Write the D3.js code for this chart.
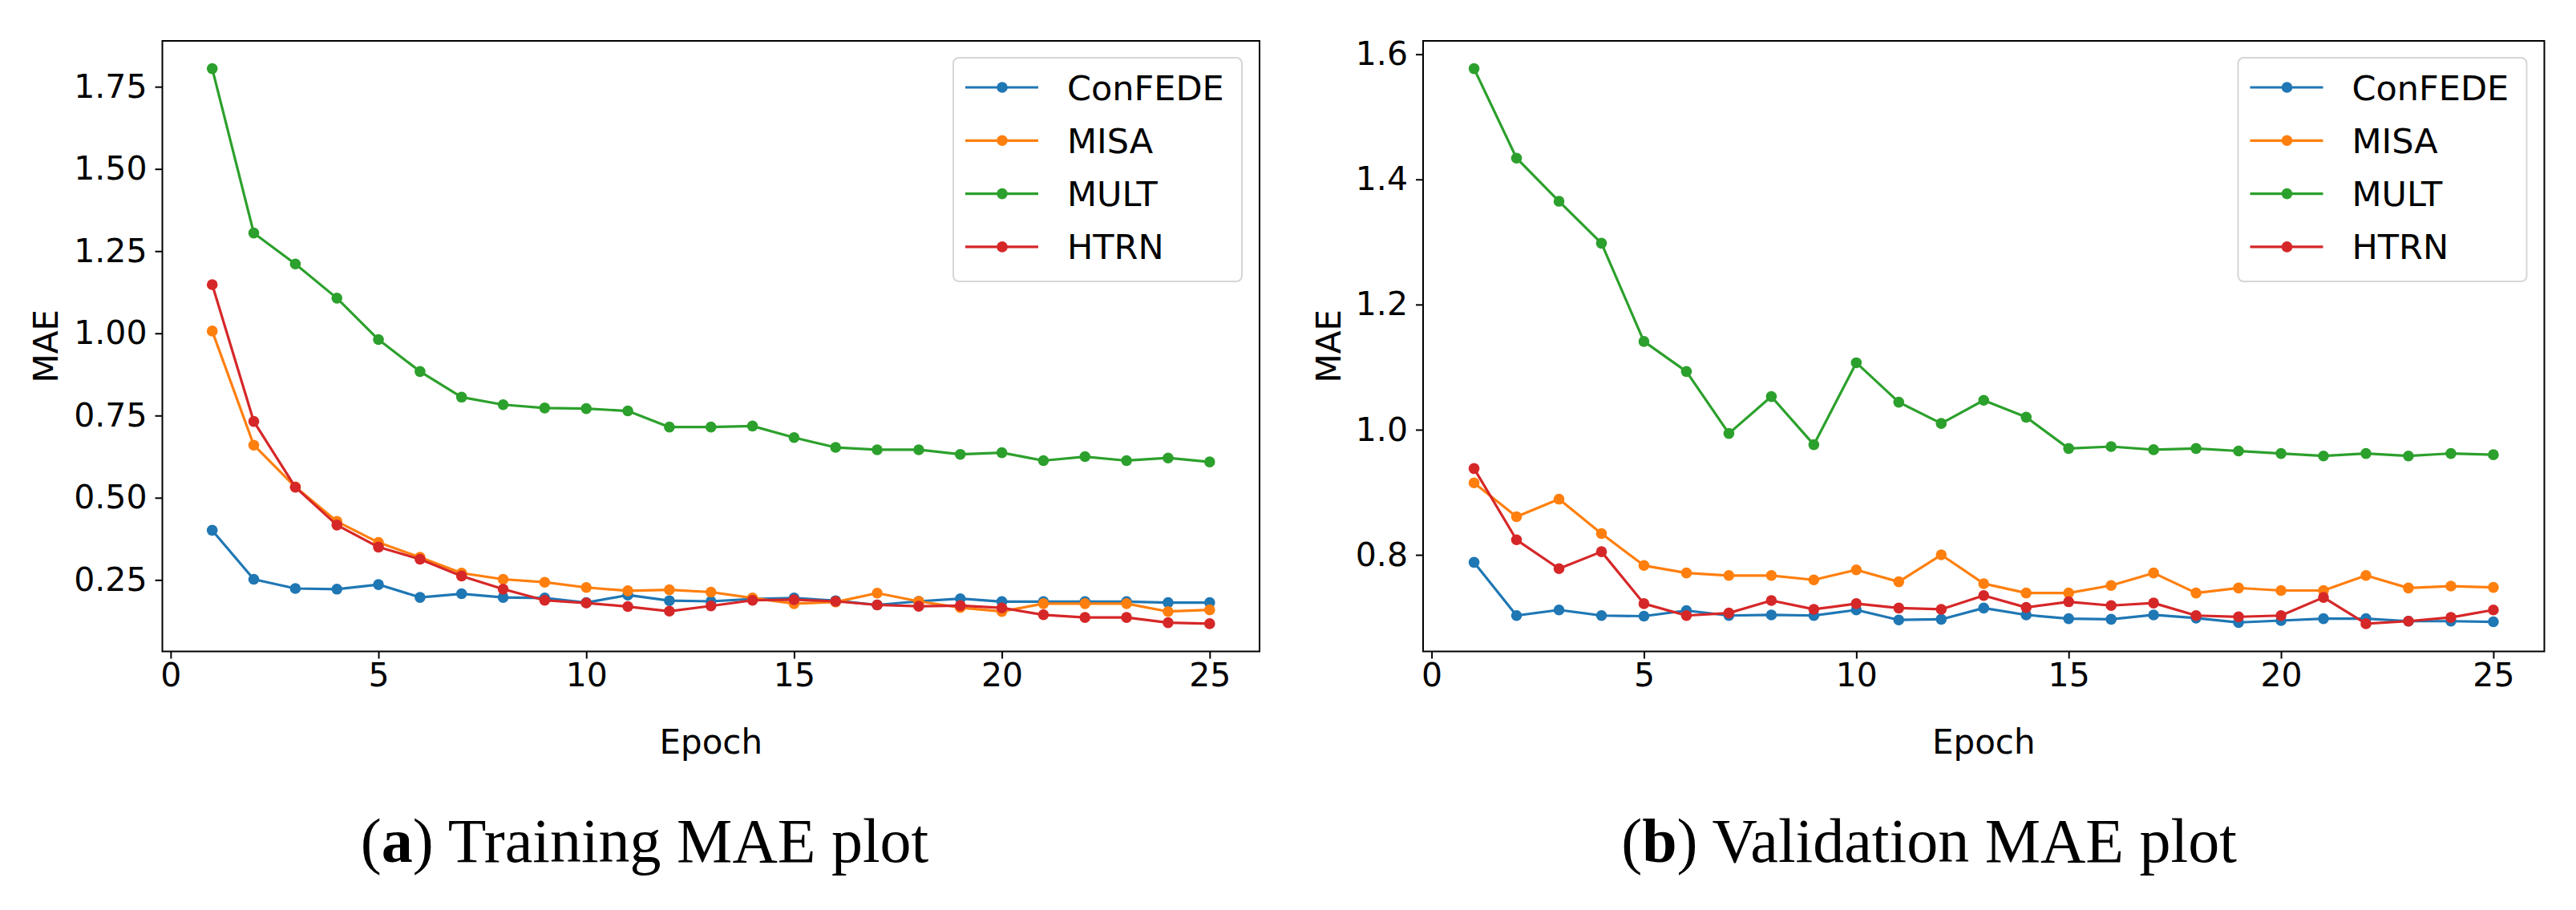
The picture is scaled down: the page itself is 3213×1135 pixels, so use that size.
<!DOCTYPE html>
<html>
<head>
<meta charset="utf-8">
<script src="https://cdnjs.cloudflare.com/ajax/libs/d3/7.8.5/d3.min.js"></script>
<style>
  body { margin: 0; background: #fff; }
  .tick text { font-family: "DejaVu Sans", sans-serif; font-size: 41px; fill: #000; }
  .tick line { stroke: #000; stroke-width: 2; }
  .axis-label { font-family: "DejaVu Sans", sans-serif; font-size: 42px; fill: #000; }
  .legend-text { font-family: "DejaVu Sans", sans-serif; font-size: 43px; fill: #000; }
  .caption { font-family: "Liberation Serif", "Times New Roman", serif; font-size: 78px; fill: #000; }
</style>
</head>
<body>
<div id="chart"></div>
<script>
// data
var epochs = [1, 2, 3, 4, 5, 6, 7, 8, 9, 10, 11, 12, 13, 14, 15, 16, 17, 18, 19, 20, 21, 22, 23, 24, 25];
var seriesNames = ["ConFEDE", "MISA", "MULT", "HTRN"];

var trainConFEDE = [0.401, 0.252, 0.224, 0.222, 0.236, 0.197, 0.208, 0.197, 0.195, 0.181, 0.204, 0.187, 0.185,
  0.192, 0.195, 0.187, 0.174, 0.185, 0.193, 0.184, 0.184, 0.184, 0.184, 0.181, 0.181];
var trainMISA = [1.007, 0.660, 0.533, 0.428, 0.364, 0.319, 0.271, 0.252, 0.243, 0.227, 0.217, 0.220, 0.213,
  0.195, 0.178, 0.183, 0.210, 0.185, 0.166, 0.154, 0.178, 0.178, 0.178, 0.154, 0.159];
var trainMULT = [1.805, 1.305, 1.211, 1.107, 0.981, 0.884, 0.806, 0.783, 0.773, 0.771, 0.764, 0.715, 0.715,
  0.718, 0.683, 0.653, 0.646, 0.646, 0.632, 0.637, 0.613, 0.625, 0.613, 0.621, 0.609];
var trainHTRN = [1.148, 0.732, 0.532, 0.417, 0.350, 0.313, 0.262, 0.222, 0.188, 0.180, 0.169, 0.155, 0.171,
  0.188, 0.190, 0.185, 0.174, 0.170, 0.172, 0.165, 0.144, 0.136, 0.136, 0.120, 0.117];

var valConFEDE = [0.788, 0.703, 0.712, 0.703, 0.702, 0.711, 0.703, 0.704, 0.703, 0.712, 0.696, 0.697, 0.715,
  0.704, 0.698, 0.697, 0.704, 0.699, 0.692, 0.695, 0.698, 0.698, 0.694, 0.694, 0.693];
var valMISA = [0.915, 0.861, 0.889, 0.834, 0.783, 0.771, 0.767, 0.767, 0.760, 0.776, 0.757, 0.800, 0.754,
  0.739, 0.739, 0.751, 0.771, 0.739, 0.747, 0.743, 0.743, 0.767, 0.747, 0.750, 0.748];
var valMULT = [1.577, 1.434, 1.365, 1.298, 1.141, 1.093, 0.994, 1.053, 0.976, 1.107, 1.044, 1.010, 1.047,
  1.020, 0.970, 0.973, 0.968, 0.970, 0.966, 0.962, 0.958, 0.962, 0.958, 0.962, 0.960];
var valHTRN = [0.938, 0.824, 0.778, 0.805, 0.722, 0.703, 0.707, 0.727, 0.713, 0.722, 0.715, 0.713, 0.735,
  0.716, 0.725, 0.719, 0.723, 0.703, 0.701, 0.703, 0.732, 0.690, 0.694, 0.700, 0.712];

var xTicks = [0, 5, 10, 15, 20, 25];
var trainYTicks = [0.25, 0.50, 0.75, 1.00, 1.25, 1.50, 1.75];
var valYTicks = [0.8, 1.0, 1.2, 1.4, 1.6];

var svgWidth = 3213;
var svgHeight = 1135;
var plotTop = 51;
var plotBottom = 812.5;

var color = d3.scaleOrdinal()
  .domain(seriesNames)
  .range(["#1f77b4", "#ff7f0e", "#2ca02c", "#d62728"]);

var svg = d3.select("#chart")
  .append("svg")
  .attr("width", svgWidth)
  .attr("height", svgHeight);

function drawPanel(panel) {
  var g = svg.append("g");

  // x domain padded 5% like matplotlib autoscale
  var xPad = (d3.max(epochs) - d3.min(epochs)) * 0.05;
  var xScale = d3.scaleLinear()
    .domain([d3.min(epochs) - xPad, d3.max(epochs) + xPad])
    .range([panel.left, panel.right]);

  var allValues = d3.merge(panel.series);
  var lo = d3.min(allValues);
  var hi = d3.max(allValues);
  var yPad = (hi - lo) * 0.05;
  var yScale = d3.scaleLinear()
    .domain([lo - yPad, hi + yPad])
    .range([plotBottom, plotTop]);

  // axes
  var bottomAxis = d3.axisBottom(xScale)
    .tickValues(xTicks)
    .tickFormat(d3.format("d"))
    .tickSize(9)
    .tickPadding(5);
  var leftAxis = d3.axisLeft(yScale)
    .tickValues(panel.yTicks)
    .tickFormat(d3.format(panel.yFormat))
    .tickSize(9)
    .tickPadding(10);

  g.append("g")
    .attr("transform", `translate(0, ${plotBottom})`)
    .call(bottomAxis)
    .call(a => a.select(".domain").remove());

  g.append("g")
    .attr("transform", `translate(${panel.left}, 0)`)
    .call(leftAxis)
    .call(a => a.select(".domain").remove());

  g.selectAll(".tick text").attr("font-family", null).attr("font-size", null);

  // lines + markers, series in order
  var line = d3.line()
    .x((d, i) => xScale(epochs[i]))
    .y(d => yScale(d));

  panel.series.forEach(function(values, k) {
    var sg = g.append("g");
    sg.append("path")
      .datum(values)
      .attr("d", line)
      .attr("fill", "none")
      .attr("stroke", color(seriesNames[k]))
      .attr("stroke-width", 3.2)
      .attr("stroke-linejoin", "round");
    sg.selectAll("circle")
      .data(values)
      .enter()
      .append("circle")
      .attr("cx", (d, i) => xScale(epochs[i]))
      .attr("cy", d => yScale(d))
      .attr("r", 6.8)
      .attr("fill", color(seriesNames[k]));
  });

  // frame
  g.append("rect")
    .attr("x", panel.left)
    .attr("y", plotTop)
    .attr("width", panel.right - panel.left)
    .attr("height", plotBottom - plotTop)
    .attr("fill", "none")
    .attr("stroke", "#000")
    .attr("stroke-width", 2);

  // legend, upper right
  var lx = panel.right - 382;
  var legend = g.append("g");
  legend.append("rect")
    .attr("x", lx)
    .attr("y", 72)
    .attr("width", 360)
    .attr("height", 279)
    .attr("rx", 7)
    .attr("fill", "#fff")
    .attr("fill-opacity", 0.8)
    .attr("stroke", "#d6d6d6")
    .attr("stroke-width", 2);

  var rows = legend.selectAll(".legend-row")
    .data(seriesNames)
    .enter()
    .append("g")
    .attr("class", "legend-row")
    .attr("transform", (d, i) => `translate(${lx}, ${109 + i * 66.3})`);

  rows.append("line")
    .attr("x1", 15)
    .attr("x2", 106)
    .attr("stroke", d => color(d))
    .attr("stroke-width", 3.2);
  rows.append("circle")
    .attr("cx", 61)
    .attr("r", 6.8)
    .attr("fill", d => color(d));
  rows.append("text")
    .attr("class", "legend-text")
    .attr("x", 142)
    .attr("y", 15.5)
    .text(d => d);

  // axis labels
  g.append("text")
    .attr("class", "axis-label")
    .attr("x", (panel.left + panel.right) / 2)
    .attr("y", 940)
    .attr("text-anchor", "middle")
    .text("Epoch");

  g.append("text")
    .attr("class", "axis-label")
    .attr("transform", `translate(${panel.labelX}, ${(plotTop + plotBottom) / 2}) rotate(-90)`)
    .attr("dy", "0.36em")
    .attr("text-anchor", "middle")
    .text("MAE");

  // sub caption
  var cap = g.append("text")
    .attr("class", "caption")
    .attr("x", panel.captionX)
    .attr("y", 1075)
    .attr("text-anchor", "middle");
  cap.append("tspan").text("(");
  cap.append("tspan").attr("font-weight", "bold").text(panel.letter);
  cap.append("tspan").text(") " + panel.caption);
}

drawPanel({
  left: 202.5,
  right: 1571,
  labelX: 56.5,
  captionX: 804,
  series: [trainConFEDE, trainMISA, trainMULT, trainHTRN],
  yTicks: trainYTicks,
  yFormat: ".2f",
  letter: "a",
  caption: "Training MAE plot"
});

drawPanel({
  left: 1775,
  right: 3173.5,
  labelX: 1656.5,
  captionX: 2406,
  series: [valConFEDE, valMISA, valMULT, valHTRN],
  yTicks: valYTicks,
  yFormat: ".1f",
  letter: "b",
  caption: "Validation MAE plot"
});
</script>
</body>
</html>
